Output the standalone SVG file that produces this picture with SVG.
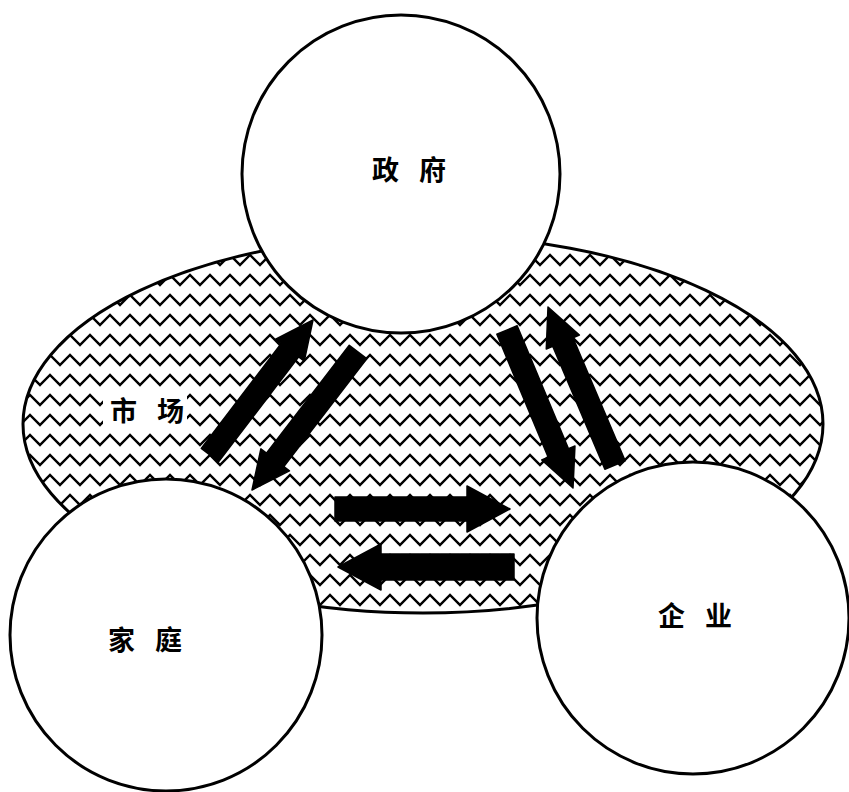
<svg xmlns="http://www.w3.org/2000/svg" width="849" height="792" viewBox="0 0 849 792">
<style>
.node{fill:#fff;stroke:#000;stroke-width:3}
.lbl{font-family:"Noto Sans CJK SC","Noto Sans CJK TC",sans-serif;font-size:27px;font-weight:700;fill:#000;letter-spacing:20px}
.arr{fill:#000;stroke:#000;stroke-width:1.5;stroke-linejoin:round}
</style>
<defs>
<pattern id="zig" patternUnits="userSpaceOnUse" x="0" y="10" width="20" height="20">
<path d="M-10,5 L0,15 L10,5 L20,15 L30,5" fill="none" stroke="#000" stroke-width="2.4"/>
</pattern>
</defs>
<rect width="849" height="792" fill="#fff"/>
<g id="market">
<ellipse cx="423" cy="424" rx="400" ry="189" fill="url(#zig)" stroke="#000" stroke-width="3"/>
<rect x="103" y="393" width="84" height="34" fill="#fff"/>
<text class="lbl" x="110" y="421">市场</text>
</g>
<g id="government">
<circle class="node" cx="401" cy="174" r="159"/>
<text class="lbl" x="372" y="180">政府</text>
</g>
<g id="household">
<circle class="node" cx="166" cy="635" r="156"/>
<text class="lbl" x="108" y="650">家庭</text>
</g>
<g id="enterprise">
<circle class="node" cx="693" cy="618" r="156"/>
<text class="lbl" x="658" y="626">企业</text>
</g>
<g id="connectors">
<polygon class="arr" points="218.75,461.67 298.70,356.88 304.26,361.13 313,320 275.64,339.29 281.21,343.54 201.26,448.33"/>
<polygon class="arr" points="349.28,345.30 266.43,453.16 260.87,448.89 252,490 289.43,470.83 283.87,466.56 366.72,358.70"/>
<polygon class="arr" points="496.85,334.24 548.20,457.17 541.74,459.87 573,488 574.96,445.99 568.50,448.69 517.15,325.76"/>
<polygon class="arr" points="625.13,460.71 572.97,337.70 579.41,334.96 548,307 546.27,349.02 552.71,346.28 604.87,469.29"/>
<polygon class="arr" points="335,497 467,497 467,486 510,509 467,532 467,521 335,521"/>
<polygon class="arr" points="514,554 381,554 381,544 338,567 381,590 381,580 514,580"/>
</g>
</svg>
